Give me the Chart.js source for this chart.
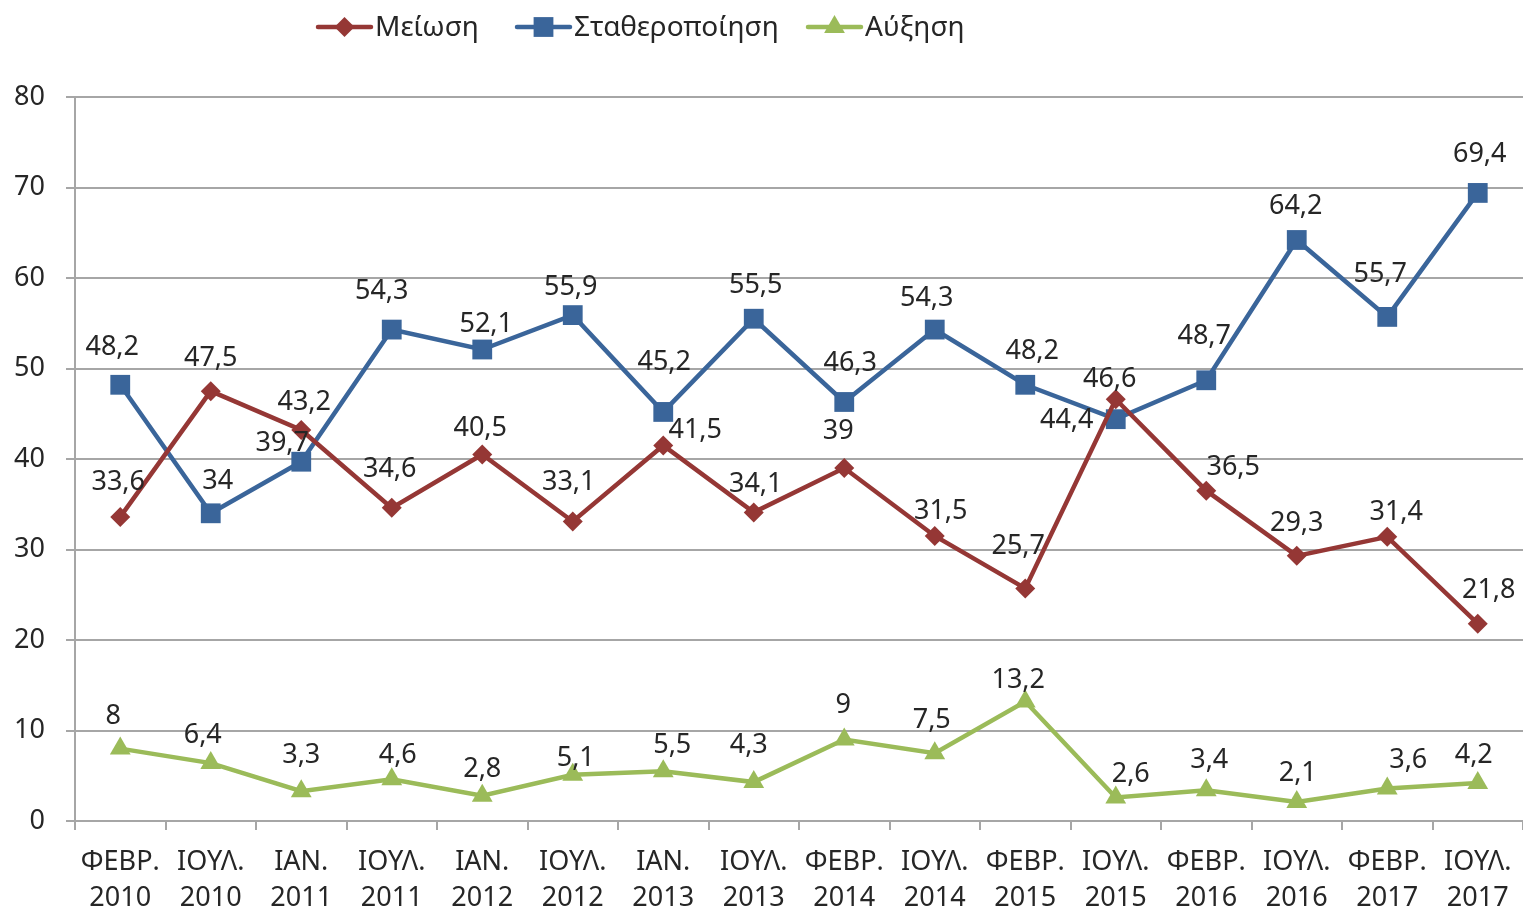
<!DOCTYPE html>
<html>
<head>
<meta charset="utf-8">
<script src="https://cdn.jsdelivr.net/npm/chart.js@4/dist/chart.umd.min.js"></script>
<style>
html,body{margin:0;padding:0;background:#fff;overflow:hidden;}
#wrap{width:1523px;height:913px;position:relative;}
canvas{display:block;}
</style>
</head>
<body>
<div id="wrap"><canvas id="c" width="1523" height="913"></canvas></div>
<script>
const categories = [
  ['ΦΕΒΡ.','2010'],['ΙΟΥΛ.','2010'],['ΙΑΝ.','2011'],['ΙΟΥΛ.','2011'],
  ['ΙΑΝ.','2012'],['ΙΟΥΛ.','2012'],['ΙΑΝ.','2013'],['ΙΟΥΛ.','2013'],
  ['ΦΕΒΡ.','2014'],['ΙΟΥΛ.','2014'],['ΦΕΒΡ.','2015'],['ΙΟΥΛ.','2015'],
  ['ΦΕΒΡ.','2016'],['ΙΟΥΛ.','2016'],['ΦΕΒΡ.','2017'],['ΙΟΥΛ.','2017']
];
const seriesNames = ['Μείωση','Σταθεροποίηση','Αύξηση'];
const meiosi = [33.6,47.5,43.2,34.6,40.5,33.1,41.5,34.1,39,31.5,25.7,46.6,36.5,29.3,31.4,21.8];
const statheropoiisi = [48.2,34,39.7,54.3,52.1,55.9,45.2,55.5,46.3,54.3,48.2,44.4,48.7,64.2,55.7,69.4];
const afxisi = [8,6.4,3.3,4.6,2.8,5.1,5.5,4.3,9,7.5,13.2,2.6,3.4,2.1,3.6,4.2];
const yTicks = [0,10,20,30,40,50,60,70,80];

// label placement offsets (style only)
const labelOffsets = [
  [[-2,-35],[0,-33],[3,-28],[-2,-39],[-2,-26],[-4,-39],[32,-15],[2,-28],[-6,-37],[6,-25],[-7,-42],[-6,-20],[27,-23],[0,-33],[9,-25],[11,-33]],
  [[-8,-37],[7,-32],[-19,-18],[-10,-38],[4,-25],[-2,-28],[1,-50],[2,-33],[6,-39],[-8,-31],[7,-33],[-49,1],[-2,-44],[-1,-34],[-7,-43],[2,-39]],
  [[-7,-32],[-8,-28],[0,-36],[6,-24],[0,-26],[3,-17],[9,-26],[-5,-37],[-1,-34],[-3,-33],[-7,-21],[15,-23],[3,-30],[1,-29],[21,-28],[-4,-28]]
];

const FONT = '"Noto Sans", "Open Sans", sans-serif';
const TXT = '#262626';
const colors = ['#953735','#3A659A','#9BBB59'];
const styles = ['rectRot','rect','triangle'];
const radii = [10,14,12];

function drawMarker(ctx, style, x, y, r, color){
  ctx.save();
  ctx.fillStyle = color;
  ctx.beginPath();
  if(style==='rectRot'){
    ctx.moveTo(x, y-r); ctx.lineTo(x+r, y); ctx.lineTo(x, y+r); ctx.lineTo(x-r, y); ctx.closePath();
  } else if(style==='rect'){
    const s = r*Math.SQRT1_2;
    ctx.rect(x-s, y-s, 2*s, 2*s);
  } else {
    const a = 2*Math.PI/3;
    for(let k=0;k<3;k++){
      const ang = k*a;
      const px = x + Math.sin(ang)*r, py = y - Math.cos(ang)*r;
      if(k===0) ctx.moveTo(px,py); else ctx.lineTo(px,py);
    }
    ctx.closePath();
  }
  ctx.fill();
  ctx.restore();
}

const labelPlugin = {
  id:'valueLabels',
  afterDatasetsDraw(chart){
    const ctx = chart.ctx;
    ctx.save();
    ctx.font = '27px ' + FONT;
    ctx.fillStyle = TXT;
    ctx.textAlign = 'center';
    ctx.textBaseline = 'middle';
    chart.data.datasets.forEach((ds, i) => {
      const meta = chart.getDatasetMeta(i);
      meta.data.forEach((pt, j) => {
        const off = labelOffsets[i][j];
        const txt = String(ds.data[j]).replace('.', ',');
        ctx.fillText(txt, pt.x + off[0], pt.y + off[1]);
      });
    });
    ctx.restore();
  }
};

const legendPlugin = {
  id:'customLegend',
  afterDraw(chart){
    const ctx = chart.ctx;
    const y = 27;
    const starts = [318, 517, 808];
    ctx.save();
    ctx.font = '28px ' + FONT;
    ctx.fillStyle = TXT;
    ctx.textBaseline = 'middle';
    ctx.textAlign = 'left';
    chart.data.datasets.forEach((ds, i) => {
      const x0 = starts[i];
      ctx.strokeStyle = colors[i];
      ctx.lineWidth = 4.5;
      ctx.lineCap = 'round';
      ctx.beginPath(); ctx.moveTo(x0, y); ctx.lineTo(x0+53, y); ctx.stroke();
      drawMarker(ctx, styles[i], x0+26.5, y, radii[i], colors[i]);
      ctx.fillStyle = TXT;
      ctx.fillText(ds.label, x0+57, y+1);
    });
    ctx.restore();
  }
};

const makeDs = (label, data, i) => ({
  label, data,
  borderColor: colors[i], backgroundColor: colors[i],
  borderWidth: 4.5,
  pointStyle: styles[i], pointRadius: radii[i], pointHoverRadius: radii[i],
  pointBorderWidth: 0, pointBackgroundColor: colors[i],
  tension: 0, fill: false, clip: false
});

new Chart(document.getElementById('c'), {
  type:'line',
  data:{
    labels: categories,
    datasets:[
      makeDs(seriesNames[0], meiosi, 0),
      makeDs(seriesNames[1], statheropoiisi, 1),
      makeDs(seriesNames[2], afxisi, 2)
    ]
  },
  options:{
    responsive:false,
    animation:false,
    events:[],
    layout:{autoPadding:false, padding:{top:97, right:0, left:0, bottom:0}},
    plugins:{legend:{display:false}, tooltip:{enabled:false}, title:{display:false}},
    scales:{
      x:{
        offset:true,
        grid:{offset:true, drawOnChartArea:false, drawTicks:true, tickLength:9, color:'#a6a6a6', lineWidth:2},
        border:{display:true, color:'#a6a6a6', width:2},
        ticks:{color:TXT, font:{family:FONT, size:27, lineHeight:1.33}, padding:14, maxRotation:0, autoSkip:false},
        afterFit(s){ s.height = 92; s.paddingLeft = 0; s.paddingRight = 0; }
      },
      y:{
        min:0, max:80,
        afterBuildTicks(s){ s.ticks = yTicks.map(v => ({value:v})); },
        grid:{color:'#a6a6a6', lineWidth:2, tickLength:9, drawTicks:true},
        border:{display:true, color:'#a6a6a6', width:2},
        ticks:{color:TXT, font:{family:FONT, size:27}, padding:21},
        afterFit(s){ s.width = 75; s.paddingTop = 0; s.paddingBottom = 0; }
      }
    }
  },
  plugins:[labelPlugin, legendPlugin]
});
</script>
</body>
</html>
